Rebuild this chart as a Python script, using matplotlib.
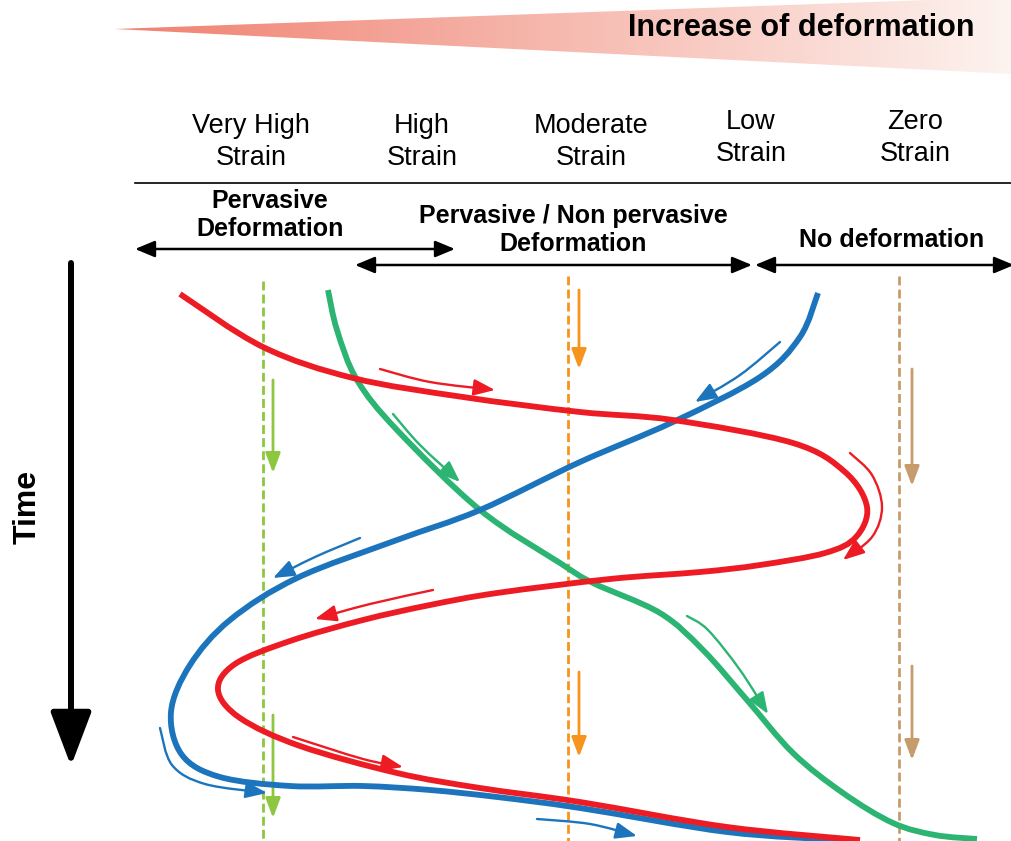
import numpy as np
import matplotlib
matplotlib.use("Agg")
import matplotlib.pyplot as plt
from matplotlib.path import Path
from matplotlib.patches import PathPatch, FancyArrowPatch, Polygon

plt.rcParams['font.family'] = ['Liberation Sans', 'DejaVu Sans']

# colours
RED = "#ed1c24"
BLUE = "#1c75bc"
GREEN = "#2cb473"
LGREEN = "#8dc63f"
ORANGE = "#f7941d"
TAN = "#c69c6d"

# header labels (pixel positions of the original sketch)
strain_labels = ["Very High\nStrain", "High\nStrain", "Moderate\nStrain", "Low\nStrain", "Zero\nStrain"]
strain_x = [251, 422, 591, 751, 915]
strain_y = [142, 142, 142, 138, 138]

deform_labels = ["Pervasive\nDeformation", "Pervasive / Non pervasive\nDeformation", "No deformation"]
deform_x = [270, 573, 892]
deform_y = [215, 230, 240]

# double headed range arrows: (x0, x1, y)
range_x0 = [135, 355, 755]
range_x1 = [455, 752, 1014]
range_y = [249, 265, 265]

# main paths (time runs downward)
red_x = [180, 263, 353, 463, 580, 673, 793, 845, 867, 856, 825, 760, 700, 610, 497, 430,
         363, 290, 235, 218, 240, 300, 397, 480, 580, 727, 860]
red_y = [294, 347, 378, 397, 412, 420, 443, 472, 507, 537, 553, 565, 572, 579, 593, 605,
         620, 641, 664, 690, 718, 746, 773, 788, 802, 827, 840]

blue_x = [818, 800, 760, 673, 580, 480, 397, 297, 230, 190, 171, 182, 220, 290,
          363, 430, 497, 580, 727, 840]
blue_y = [293, 337, 377, 422, 462, 510, 540, 578, 620, 665, 712, 755, 777, 786,
          786, 790, 797, 808, 832, 840]

green_x = [328, 337, 357, 397, 480, 560, 593, 660, 703, 747, 793, 843, 893, 935, 977]
green_y = [290, 330, 380, 430, 510, 563, 583, 613, 650, 700, 753, 793, 823, 835, 839]

# small direction arrows alongside the paths
red_arrows = [
    [(380, 369), (430, 382), (495, 390)],
    [(850, 453), (872, 475), (882, 507), (872, 537), (843, 560)],
    [(433, 590), (370, 604), (315, 619)],
    [(293, 737), (363, 759), (403, 767)],
]
blue_arrows = [
    [(780, 342), (740, 375), (695, 402)],
    [(360, 538), (315, 557), (273, 578)],
    [(160, 728), (172, 765), (205, 784), (267, 793)],
    [(537, 819), (590, 824), (637, 836)],
]
green_arrows = [
    [(393, 414), (420, 445), (460, 482)],
    [(687, 616), (708, 630), (740, 670), (768, 714)],
]

# reference strain levels (dashed) and their vertical arrows
ref_x = [263, 568, 899]
ref_top = [281, 276, 276]
ref_colors = [LGREEN, ORANGE, TAN]
vert_x = [273, 273, 579, 579, 912, 912]
vert_y0 = [380, 715, 290, 672, 369, 666]
vert_y1 = [473, 818, 369, 757, 486, 760]
vert_colors = [LGREEN, LGREEN, ORANGE, ORANGE, TAN, TAN]


def smooth_path(pts):
    pts = np.asarray(pts, float)
    n = len(pts)
    verts = [pts[0]]
    codes = [Path.MOVETO]
    for i in range(n - 1):
        p0 = pts[max(i - 1, 0)]
        p1 = pts[i]
        p2 = pts[i + 1]
        p3 = pts[min(i + 2, n - 1)]
        verts += [p1 + (p2 - p0) / 6, p2 - (p3 - p1) / 6, p2]
        codes += [Path.CURVE4] * 3
    return Path(verts, codes)


fig = plt.figure(figsize=(10.12, 8.41), dpi=100)
ax = fig.add_axes([0, 0, 1, 1])
ax.set_xlim(0, 1012)
ax.set_ylim(841, 0)
ax.axis("off")

# gradient wedge at the top
grad = np.linspace(0, 1, 256)
c0 = np.array([240, 128, 112]) / 255
c1 = np.array([253, 243, 239]) / 255
img = (c0[None, :] * (1 - grad[:, None]) + c1[None, :] * grad[:, None])[None, :, :]
im = ax.imshow(img, extent=(115, 1012, 74, -2), aspect="auto", zorder=0)
wedge = Polygon([(115, 29), (1012, -3), (1012, 74)], closed=True, transform=ax.transData)
im.set_clip_path(wedge)
ax.set_xlim(0, 1012)
ax.set_ylim(841, 0)
ax.text(975, 28, "Increase of deformation", ha="right", va="center",
        fontsize=22, fontweight="bold")

for lab, x, y in zip(strain_labels, strain_x, strain_y):
    ax.text(x, y, lab, ha="center", va="center", fontsize=19.5, linespacing=1.28)

ax.plot([135, 1012], [183, 183], color="black", lw=1.2)

for lab, x, y in zip(deform_labels, deform_x, deform_y):
    ax.text(x, y, lab, ha="center", va="center", fontsize=18, fontweight="bold",
            linespacing=1.2)

for x0, x1, y in zip(range_x0, range_x1, range_y):
    ax.add_patch(FancyArrowPatch((x0, y), (x1, y), arrowstyle="<|-|>,head_length=12,head_width=5",
                                 mutation_scale=1, lw=1.8, color="black",
                                 shrinkA=0, shrinkB=0))

# time arrow
ax.add_patch(FancyArrowPatch((71, 263), (71, 766), arrowstyle="-|>,head_length=33,head_width=12.5",
                             mutation_scale=1, lw=4.3, color="black",
                             shrinkA=0, shrinkB=0))
ax.text(28, 507, "Time", rotation=90, ha="center", va="center",
        fontsize=23, fontweight="bold")

# dashed reference lines
for x, top, c in zip(ref_x, ref_top, ref_colors):
    ax.plot([x, x], [top, 841], color=c, lw=2.0, dashes=(3.2, 1.5), zorder=1)

for x, y0, y1, c in zip(vert_x, vert_y0, vert_y1, vert_colors):
    ax.add_patch(FancyArrowPatch((x, y0), (x, y1), arrowstyle="-|>,head_length=12,head_width=4.5",
                                 mutation_scale=1, lw=2.0, color=c,
                                 shrinkA=0, shrinkB=0, zorder=2))

# main curves
for xs, ys, c in [(green_x, green_y, GREEN), (blue_x, blue_y, BLUE), (red_x, red_y, RED)]:
    ax.add_patch(PathPatch(smooth_path(list(zip(xs, ys))), fill=False, ec=c, lw=4.2,
                           capstyle="butt", zorder=3))

for arrows, c in [(red_arrows, RED), (blue_arrows, BLUE), (green_arrows, GREEN)]:
    for pts in arrows:
        ax.add_patch(FancyArrowPatch(path=smooth_path(pts),
                                     arrowstyle="-|>,head_length=13,head_width=5",
                                     mutation_scale=1, lw=1.7, color=c, zorder=4))

fig.savefig("out.png", dpi=100)
